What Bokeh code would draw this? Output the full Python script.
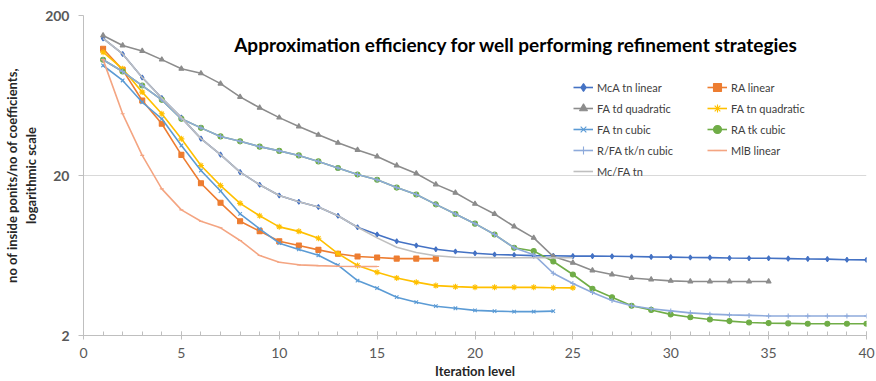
from bokeh.plotting import figure
from bokeh.models import (Legend, LegendItem, Label, FixedTicker, Range1d,
                          CustomJSTickFormatter)
from bokeh.embed import file_html
from bokeh.resources import INLINE

# Iteration levels and axis ticks
iteration = list(range(1, 41))
x_ticks = [0, 5, 10, 15, 20, 25, 30, 35, 40]
y_ticks = [2, 20, 200]

# Ratio of inside points to coefficients per refinement strategy
mca_tn_linear = [144, 115, 82, 61, 46, 34, 27, 21, 17.5, 15, 13.7, 12.7, 11.2, 9.5,
                 8.55, 7.77, 7.3, 6.92, 6.7, 6.53, 6.42, 6.37, 6.31, 6.3, 6.27, 6.27,
                 6.25, 6.23, 6.2, 6.18, 6.15, 6.13, 6.1, 6.08, 6.08, 6.05, 6.02, 6.0,
                 5.95, 5.94]
ra_linear = [124, 91.5, 58.9, 42.1, 26.9, 17.9, 13.5, 10.35, 8.98, 7.77, 7.3, 6.86,
             6.48, 6.24, 6.14, 6.05, 6.05, 6.05]
fa_td_quadratic = [150, 130, 120, 106, 93, 87, 75, 62, 53, 46, 40.5, 35.9, 32, 28.9,
                   26.3, 23.1, 20.6, 17.6, 15.6, 13.3, 11.5, 9.6, 8.15, 6.23, 5.7,
                   5.1, 4.81, 4.58, 4.48, 4.39, 4.35, 4.35, 4.35, 4.35, 4.35]
fa_tn_quadratic = [118, 92.8, 66.4, 48.6, 33.9, 23.1, 17.3, 13.4, 11.2, 9.55, 8.95,
                   8.1, 6.5, 5.48, 4.97, 4.58, 4.31, 4.1, 4.04, 4.0, 4.0, 4.0, 4.0,
                   3.98, 3.97]
fa_tn_cubic = [97.4, 78.5, 57.4, 45.2, 30.8, 21.5, 16.0, 11.5, 9.29, 7.55, 6.9, 6.35,
               5.5, 4.41, 3.95, 3.47, 3.23, 3.05, 2.96, 2.87, 2.84, 2.82, 2.82, 2.84]
ra_tk_cubic = [105.8, 89.3, 73, 59.4, 45.2, 39.7, 35.1, 32.7, 30.3, 28.5, 26.7, 24.5,
               22.3, 20.3, 18.8, 16.8, 15.2, 13.2, 11.5, 10.0, 8.55, 7.07, 6.75, 5.8,
               4.81, 3.92, 3.47, 3.07, 2.89, 2.71, 2.6, 2.52, 2.46, 2.41, 2.39, 2.38,
               2.37, 2.37, 2.37, 2.37]
rfa_tkn_cubic = [105.8, 89.3, 73, 59.4, 45.2, 39.7, 35.1, 32.7, 30.3, 28.5, 26.7, 24.5,
                 22.3, 20.3, 18.8, 16.8, 15.2, 13.2, 11.5, 10.0, 8.55, 7.07, 6.4, 4.9,
                 4.23, 3.71, 3.31, 3.07, 2.94, 2.85, 2.77, 2.72, 2.69, 2.67, 2.65, 2.65,
                 2.65, 2.65, 2.65, 2.65]
mlb_linear = [106, 48.6, 26.7, 16.5, 12.2, 10.35, 9.42, 7.85, 6.32, 5.74, 5.53, 5.47,
              5.42, 5.4, 5.4]
mc_fa_tn = [144, 115, 82, 61, 46, 34, 27, 21, 17.5, 15, 13.7, 12.7, 11.2, 9.5, 8.15,
            7.13, 6.6, 6.3, 6.17, 6.15, 6.13, 6.12, 6.12, 6.12, 6.12]

FONT = "Lato"

p = figure(width=876, height=381, y_axis_type="log",
           x_range=Range1d(0, 40), y_range=Range1d(2, 200),
           output_backend="svg", toolbar_location=None,
           background_fill_color="white", border_fill_color="white")
p.min_border_left = 82
p.min_border_right = 10
p.min_border_top = 15
p.min_border_bottom = 46
p.outline_line_color = None

# Axes
p.xaxis.ticker = FixedTicker(ticks=x_ticks, minor_ticks=list(range(0, 41)))
p.yaxis.ticker = FixedTicker(ticks=y_ticks)
p.yaxis.formatter = CustomJSTickFormatter(code="return tick.toFixed(0);")

for ax in (p.xaxis[0], p.yaxis[0]):
    ax.axis_line_color = "#bfbfbf"
    ax.major_tick_line_color = "#bfbfbf"
    ax.minor_tick_line_color = "#bfbfbf"
    ax.major_label_text_font = FONT
    ax.major_label_text_font_size = "14px"
    ax.major_label_text_color = "#595959"
    ax.axis_label_text_font = FONT
    ax.axis_label_text_font_size = "13px"
    ax.axis_label_text_font_style = "bold"
    ax.axis_label_text_color = "#262626"

p.xaxis.major_tick_in = 4
p.xaxis.major_tick_out = 4
p.xaxis.minor_tick_in = 4
p.xaxis.minor_tick_out = 0
p.xaxis.major_label_standoff = 8
p.xaxis.axis_label = "Iteration level"
p.xaxis.axis_label_standoff = 2

p.yaxis.major_tick_in = 0
p.yaxis.major_tick_out = 5
p.yaxis.minor_tick_line_color = None
p.yaxis.major_label_text_font_style = "bold"
p.yaxis.major_label_standoff = 9
p.yaxis.axis_label = "no of inside ponits/no of coefficients,\nlogarithmic scale"
p.yaxis.axis_label_standoff = 3

p.xgrid.grid_line_color = None
p.ygrid.grid_line_color = "#d9d9d9"
p.ygrid.ticker = FixedTicker(ticks=[20, 200])

series = [
    ("McA tn linear", mca_tn_linear, "#4472c4", "diamond", 5),
    ("RA linear", ra_linear, "#ed7d31", "square", 5),
    ("FA td quadratic", fa_td_quadratic, "#8c8c8c", "triangle", 5),
    ("FA tn quadratic", fa_tn_quadratic, "#ffc000", "asterisk", 6),
    ("FA tn cubic", fa_tn_cubic, "#5b9bd5", "x", 5),
    ("RA tk cubic", ra_tk_cubic, "#70ad47", "circle", 5),
    ("R/FA tk/n cubic", rfa_tkn_cubic, "#8eaadb", "cross", 5),
    ("MlB linear", mlb_linear, "#f4a582", "dash", 4),
    ("Mc/FA tn", mc_fa_tn, "#bfbfbf", None, 0),
]

items = {}
for label, vals, color, marker, size in series:
    xs = iteration[:len(vals)]
    rs = [p.line(xs, vals, line_color=color, line_width=1.6)]
    if marker is not None:
        rs.append(p.scatter(xs, vals, marker=marker, size=size, line_color=color,
                            fill_color=color, line_width=1.1))
    items[label] = rs

def make_legend(labels, loc):
    leg = Legend(items=[LegendItem(label=l, renderers=items[l]) for l in labels],
                 location=loc, orientation="vertical")
    leg.label_text_font = FONT
    leg.label_text_font_size = "11px"
    leg.label_text_color = "#404040"
    leg.background_fill_alpha = 0
    leg.border_line_color = None
    leg.padding = 0
    leg.margin = 0
    leg.spacing = 1
    leg.glyph_width = 20
    leg.glyph_height = 20
    leg.label_height = 20
    leg.label_standoff = 4
    return leg

p.add_layout(make_legend(["McA tn linear", "FA td quadratic", "FA tn cubic",
                          "R/FA tk/n cubic", "Mc/FA tn"], (490, 154)))
p.add_layout(make_legend(["RA linear", "FA tn quadratic", "RA tk cubic",
                          "MlB linear"], (624, 175)))

p.add_layout(Label(x=22.1, y=131.8, text="Approximation efficiency for well performing refinement strategies",
                   text_align="center", text_baseline="middle", text_font=FONT,
                   text_font_size="19px", text_font_style="bold", text_color="#000000"))

open("out.html", "w").write(file_html(p, INLINE))
